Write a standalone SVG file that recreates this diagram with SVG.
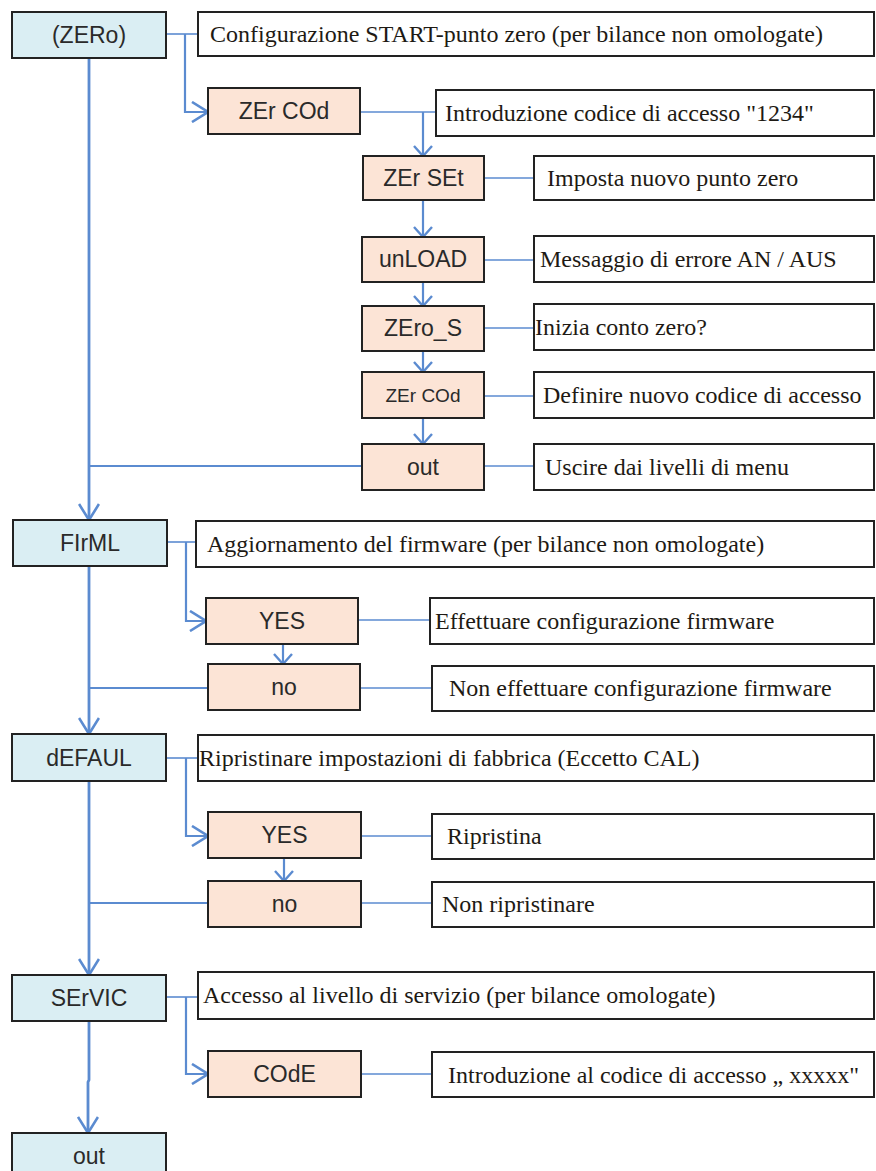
<svg xmlns="http://www.w3.org/2000/svg" width="876" height="1171" viewBox="0 0 876 1171">
<style>
.m rect{fill:#daeef3;stroke:#222;stroke-width:2}
.s rect{fill:#fce4d6;stroke:#222;stroke-width:2}
.d rect{fill:#fff;stroke:#222;stroke-width:2}
.m text,.s text{font-family:"Liberation Sans",Arial,sans-serif;font-size:23px;fill:#2a2a2a;text-anchor:middle}
.d text{font-family:"Liberation Serif","Times New Roman",serif;font-size:24px;fill:#1e1a14}
#conn path{fill:none;stroke:#5b8bd0;stroke-width:2.2}
#conn path.t{stroke-width:1.6}
#conn path.b{stroke-width:2.8}
</style>
<defs>
<marker id="ab" viewBox="0 0 18 22" refX="17" refY="11" markerWidth="18" markerHeight="22" markerUnits="userSpaceOnUse" orient="auto">
<path d="M1,1 L17,11 L1,21" fill="none" stroke="#5b8bd0" stroke-width="2.6"/>
</marker>
<marker id="as" viewBox="0 0 12 20" refX="11" refY="10" markerWidth="12" markerHeight="20" markerUnits="userSpaceOnUse" orient="auto">
<path d="M1,1 L11,10 L1,19" fill="none" stroke="#5b8bd0" stroke-width="2.4"/>
</marker>
</defs>
<rect width="876" height="1171" fill="#fff"/>
<g id="conn">
<path class="t" d="M166,34 H198"/>
<path d="M185,34 V112 H208" marker-end="url(#ab)"/>
<path class="b" d="M89,58 V520" marker-end="url(#ab)"/>
<path class="t" d="M360,112 H436"/>
<path d="M423,112 V156" marker-end="url(#as)"/>
<path class="t" d="M484,178 H534"/>
<path d="M423,200 V237" marker-end="url(#as)"/>
<path class="t" d="M484,260 H534"/>
<path d="M423,282 V306" marker-end="url(#as)"/>
<path class="t" d="M484,328 H534"/>
<path d="M423,351 V372" marker-end="url(#as)"/>
<path class="t" d="M484,396 H534"/>
<path d="M423,418 V444" marker-end="url(#as)"/>
<path class="t" d="M484,466 H534"/>
<path d="M362,466 H89"/>
<path class="t" d="M167,542 H196"/>
<path d="M186,542 V621 H206" marker-end="url(#ab)"/>
<path class="t" d="M358,620 H430"/>
<path d="M283,644 V664" marker-end="url(#as)"/>
<path class="t" d="M360,688 H432"/>
<path d="M208,688 H89"/>
<path class="b" d="M89,566 V734" marker-end="url(#ab)"/>
<path class="t" d="M166,758 H198"/>
<path d="M186,758 V836 H208" marker-end="url(#ab)"/>
<path class="t" d="M361,836 H432"/>
<path d="M284,858 V881" marker-end="url(#as)"/>
<path class="t" d="M361,903 H432"/>
<path d="M208,903 H89"/>
<path class="b" d="M89,781 V975" marker-end="url(#ab)"/>
<path class="t" d="M166,997 H198"/>
<path d="M186,997 V1074 H208" marker-end="url(#ab)"/>
<path class="t" d="M361,1074 H432"/>
<path class="b" d="M89,1021 V1080 L88,1082 V1133" marker-end="url(#ab)"/>
</g>
<g id="n-zero" class="m"><rect x="12" y="12" width="154" height="46"/><text x="89" y="43">(ZERo)</text></g>
<g id="d-zero" class="d"><rect x="198" y="12" width="676" height="44"/><text x="210" y="42">Configurazione START-punto zero (per bilance non omologate)</text></g>
<g id="n-zercod" class="s"><rect x="208" y="88" width="152" height="46"/><text x="284" y="119">ZEr COd</text></g>
<g id="d-zercod" class="d"><rect x="436" y="90" width="438" height="46"/><text x="445" y="121">Introduzione codice di accesso "1234"</text></g>
<g id="n-zerset" class="s"><rect x="363" y="156" width="121" height="44"/><text x="423.5" y="186">ZEr SEt</text></g>
<g id="d-zerset" class="d"><rect x="534" y="156" width="340" height="44"/><text x="547" y="186">Imposta nuovo punto zero</text></g>
<g id="n-unload" class="s"><rect x="362" y="237" width="122" height="45"/><text x="423" y="267">unLOAD</text></g>
<g id="d-unload" class="d"><rect x="534" y="236" width="340" height="46"/><text x="540" y="267">Messaggio di errore AN / AUS</text></g>
<g id="n-zeros" class="s"><rect x="362" y="306" width="122" height="45"/><text x="423" y="336">ZEro_S</text></g>
<g id="d-zeros" class="d"><rect x="534" y="304" width="340" height="46"/><text x="535" y="335">Inizia conto zero?</text></g>
<g id="n-zercod2" class="s"><rect x="362" y="372" width="122" height="46"/><text x="423" y="402" style="font-size:19px">ZEr COd</text></g>
<g id="d-zercod2" class="d"><rect x="534" y="372" width="340" height="46"/><text x="543" y="403">Definire nuovo codice di accesso</text></g>
<g id="n-out1" class="s"><rect x="362" y="444" width="122" height="46"/><text x="423" y="475">out</text></g>
<g id="d-out1" class="d"><rect x="534" y="444" width="340" height="46"/><text x="545" y="475">Uscire dai livelli di menu</text></g>
<g id="n-firml" class="m"><rect x="13" y="520" width="154" height="46"/><text x="90" y="551">FIrML</text></g>
<g id="d-firml" class="d"><rect x="196" y="521" width="678" height="46"/><text x="207" y="552">Aggiornamento del firmware (per bilance non omologate)</text></g>
<g id="n-yes1" class="s"><rect x="206" y="598" width="152" height="46"/><text x="282" y="629">YES</text></g>
<g id="d-yes1" class="d"><rect x="430" y="598" width="444" height="46"/><text x="435" y="629">Effettuare configurazione firmware</text></g>
<g id="n-no1" class="s"><rect x="208" y="664" width="152" height="46"/><text x="284" y="695">no</text></g>
<g id="d-no1" class="d"><rect x="432" y="666" width="442" height="45"/><text x="449" y="696">Non effettuare configurazione firmware</text></g>
<g id="n-default" class="m"><rect x="12" y="734" width="154" height="47"/><text x="89" y="766">dEFAUL</text></g>
<g id="d-default" class="d"><rect x="198" y="735" width="676" height="46"/><text x="199" y="766">Ripristinare impostazioni di fabbrica (Eccetto CAL)</text></g>
<g id="n-yes2" class="s"><rect x="208" y="812" width="153" height="46"/><text x="284.5" y="843">YES</text></g>
<g id="d-yes2" class="d"><rect x="432" y="814" width="442" height="45"/><text x="447" y="844">Ripristina</text></g>
<g id="n-no2" class="s"><rect x="208" y="881" width="153" height="46"/><text x="284.5" y="912">no</text></g>
<g id="d-no2" class="d"><rect x="432" y="882" width="442" height="45"/><text x="442" y="912">Non ripristinare</text></g>
<g id="n-servic" class="m"><rect x="12" y="975" width="154" height="46"/><text x="89" y="1006">SErVIC</text></g>
<g id="d-servic" class="d"><rect x="198" y="972" width="676" height="47"/><text x="203" y="1003">Accesso al livello di servizio (per bilance omologate)</text></g>
<g id="n-code" class="s"><rect x="208" y="1051" width="153" height="46"/><text x="284.5" y="1082">COdE</text></g>
<g id="d-code" class="d"><rect x="432" y="1052" width="442" height="45"/><text x="448" y="1083">Introduzione al codice di accesso  „ xxxxx"</text></g>
<g id="n-out2" class="m"><rect x="12" y="1133" width="154" height="48"/><text x="89" y="1164">out</text></g>
</svg>
